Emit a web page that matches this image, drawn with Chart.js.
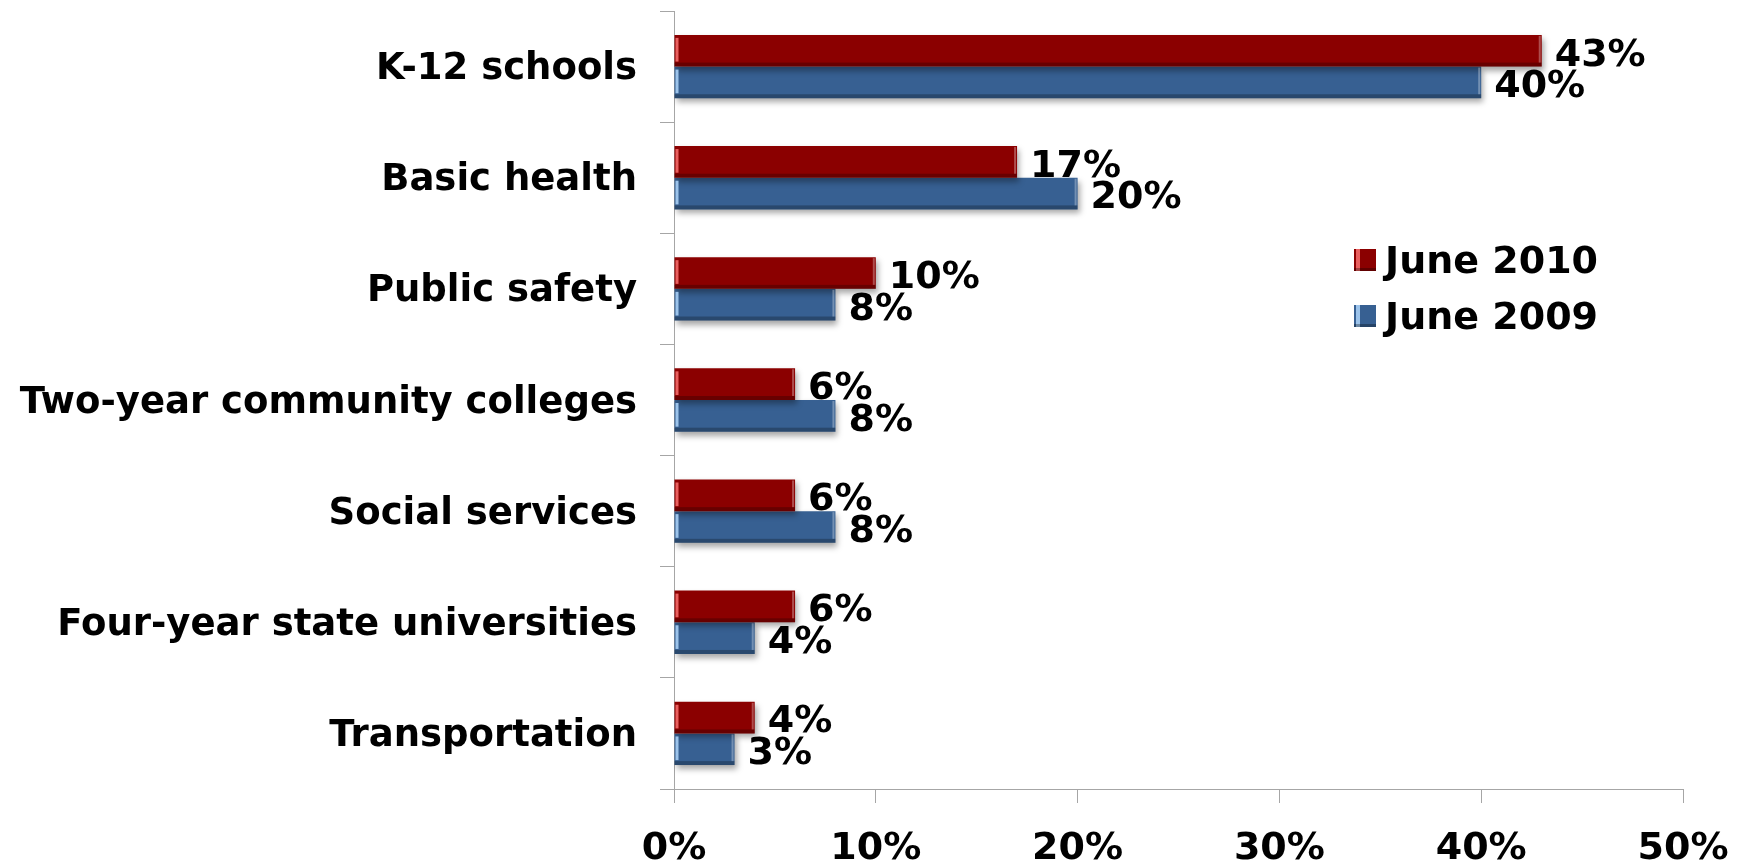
<!DOCTYPE html>
<html>
<head>
<meta charset="utf-8">
<script src="https://cdn.jsdelivr.net/npm/chart.js@4.4.0/dist/chart.umd.min.js"></script>
<style>
  body { margin: 0; background: #fff; }
  #wrap { position: relative; width: 1746px; height: 865px; }
  #legend { position: absolute; left: 1354px; top: 232px; font: bold 38px "DejaVu Sans", Verdana, sans-serif; color: #000; }
  .row { display: flex; align-items: center; height: 56px; }
  .sw { width: 22px; height: 22px; margin-right: 9px; box-sizing: border-box; }
</style>
</head>
<body>
<div id="wrap">
  <canvas id="chart"></canvas>
  <div id="legend"></div>
</div>
<script>
const categories = ['K-12 schools', 'Basic health', 'Public safety', 'Two-year community colleges',
  'Social services', 'Four-year state universities', 'Transportation'];
const seriesNames = ['June 2010', 'June 2009'];
const june2010 = [43, 17, 10, 6, 6, 6, 4];
const june2009 = [40, 20, 8, 8, 8, 4, 3];
const xTicks = [0, 10, 20, 30, 40, 50];

const FONT = '"DejaVu Sans", Verdana, sans-serif';
Chart.defaults.font.family = FONT;
Chart.defaults.color = '#000';

// bevel look, drop shadow and value labels
const barStyle = {
  id: 'barStyle',
  beforeDatasetsDraw(chart) {
    const ctx = chart.ctx;
    ctx.save();
    ctx.shadowColor = 'rgba(0,0,0,0.35)';
    ctx.shadowBlur = 6;
    ctx.shadowOffsetX = 2;
    ctx.shadowOffsetY = 4;
  },
  afterDatasetsDraw(chart) {
    const ctx = chart.ctx;
    ctx.restore();
    chart.data.datasets.forEach((ds, i) => {
      chart.getDatasetMeta(i).data.forEach((bar, j) => {
        const top = bar.y - bar.height / 2;
        const left = bar.base, right = bar.x;
        ctx.fillStyle = 'rgba(0,0,0,0.25)';
        ctx.fillRect(left, top + bar.height - 4, right - left, 4);
        ctx.fillStyle = ds.highlight;
        ctx.fillRect(left + 1, top + 3, 3, bar.height - 8);
        ctx.fillStyle = 'rgba(255,255,255,0.3)';
        ctx.fillRect(right - 3, top + 1, 2, bar.height - 5);
        ctx.fillStyle = '#000';
        ctx.font = 'bold 38px ' + FONT;
        ctx.textAlign = 'left';
        ctx.textBaseline = 'middle';
        ctx.fillText(ds.data[j] + '%', right + 13, bar.y + 5);
      });
    });
  }
};

const ctx = document.getElementById('chart').getContext('2d');
const chart = new Chart(ctx, {
  type: 'bar',
  data: {
    labels: categories,
    datasets: [{
      label: seriesNames[0],
      data: june2010,
      backgroundColor: '#8B0000',
      highlight: '#e8605f',
      categoryPercentage: 0.57,
      barPercentage: 1.0
    },
    {
      label: seriesNames[1],
      data: june2009,
      backgroundColor: '#376092',
      highlight: '#9cc3ea',
      categoryPercentage: 0.57,
      barPercentage: 1.0
    }]
  },
  options: {
    indexAxis: 'y',
    responsive: true,
    maintainAspectRatio: false,
    animation: false,
    layout: { padding: { left: 0, top: 11, right: 63, bottom: 0 } },
    plugins: { legend: { display: false }, tooltip: { enabled: false } },
    scales: {
      y: {
        afterFit: s => { s.width = 674; s.paddingTop = 0; s.paddingBottom = 0; },
        grid: { drawOnChartArea: false, tickLength: 14, color: '#a6a6a6' },
        border: { color: '#a6a6a6' },
        ticks: { padding: 23, labelOffset: 3, font: { size: 37, weight: 'bold' }, color: '#000' }
      },
      x: {
        min: xTicks[0],
        max: xTicks[xTicks.length - 1],
        afterFit: s => { s.height = 76; s.paddingLeft = 0; s.paddingRight = 0; },
        afterBuildTicks: s => { s.ticks = xTicks.map(v => ({ value: v })); },
        grid: { drawOnChartArea: false, tickLength: 14, color: '#a6a6a6' },
        border: { color: '#a6a6a6' },
        ticks: { padding: 23, font: { size: 38, weight: 'bold' }, color: '#000', callback: v => v + '%' }
      }
    }
  },
  plugins: [barStyle]
});

// legend built from the datasets
const legend = document.getElementById('legend');
chart.data.datasets.forEach(ds => {
  const row = document.createElement('div');
  row.className = 'row';
  const sw = document.createElement('div');
  sw.className = 'sw';
  sw.style.background = `linear-gradient(90deg, ${ds.backgroundColor} 0 2px, ${ds.highlight} 2px 6px, ${ds.backgroundColor} 6px)`;
  sw.style.borderBottom = '3px solid rgba(0,0,0,0.3)';
  const txt = document.createElement('span');
  txt.textContent = ds.label;
  row.appendChild(sw);
  row.appendChild(txt);
  legend.appendChild(row);
});
</script>
</body>
</html>
